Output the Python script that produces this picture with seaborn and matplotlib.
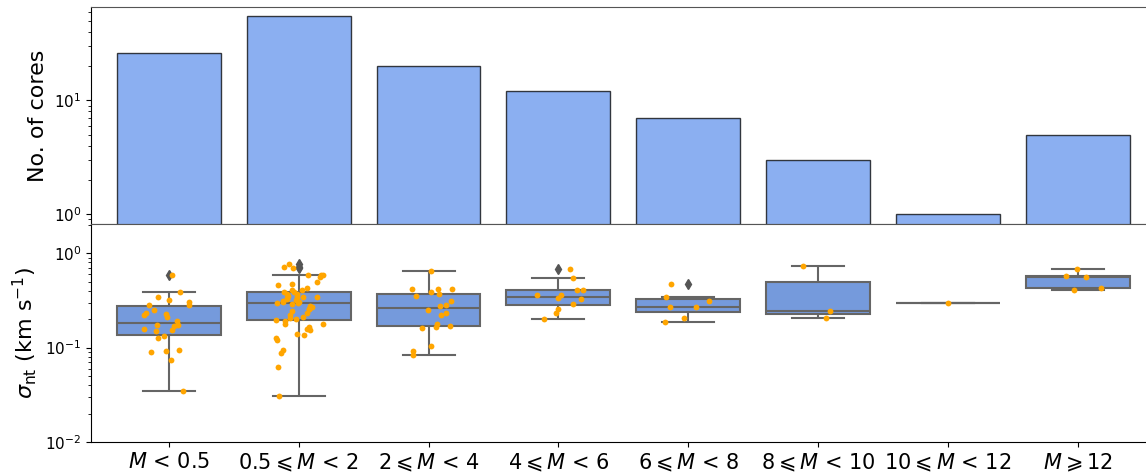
import numpy as np
import pandas as pd
import matplotlib
matplotlib.use("Agg")
import matplotlib.pyplot as plt
import seaborn as sns

# Mass bins (category labels)
categories = [r"$M$ < 0.5", r"0.5$\leqslant M$ < 2", r"2$\leqslant M$ < 4", r"4$\leqslant M$ < 6",
              r"6$\leqslant M$ < 8", r"8$\leqslant M$ < 10", r"10$\leqslant M$ < 12", r"$M\geqslant$12"]

# Number of cores in each bin
counts = [26, 55, 20, 12, 7, 3, 1, 5]

# Non-thermal velocity dispersion (km/s) per bin
sigma_bin1 = [0.589, 0.393, 0.347, 0.32, 0.303, 0.285, 0.284, 0.25, 0.232, 0.226, 0.219, 0.21, 0.192,
              0.174, 0.174, 0.169, 0.158, 0.153, 0.151, 0.133, 0.127, 0.095, 0.091, 0.089, 0.0738, 0.0344]
sigma_bin2 = [0.765, 0.72, 0.70, 0.595, 0.589, 0.589, 0.566, 0.497, 0.477, 0.458, 0.433, 0.409, 0.409,
              0.393, 0.386, 0.368, 0.368, 0.35, 0.347, 0.347, 0.342, 0.334, 0.328, 0.32, 0.31, 0.308,
              0.303, 0.30, 0.296, 0.288, 0.275, 0.268, 0.257, 0.255, 0.245, 0.23, 0.221, 0.21, 0.208,
              0.202, 0.197, 0.192, 0.179, 0.179, 0.165, 0.158, 0.154, 0.14, 0.136, 0.128, 0.121, 0.095,
              0.0875, 0.0617, 0.0304]
sigma_bin3 = [0.65, 0.422, 0.422, 0.422, 0.39, 0.368, 0.353, 0.313, 0.284, 0.277, 0.251, 0.232, 0.219,
              0.179, 0.17, 0.165, 0.161, 0.103, 0.093, 0.083]
sigma_bin4 = [0.677, 0.548, 0.406, 0.406, 0.365, 0.36, 0.334, 0.328, 0.288, 0.257, 0.233, 0.2]
sigma_bin5 = [0.477, 0.345, 0.313, 0.27, 0.27, 0.208, 0.186]
sigma_bin6 = [0.734, 0.247, 0.208]
sigma_bin7 = [0.30]
sigma_bin8 = [0.677, 0.575, 0.561, 0.433, 0.412]

all_bins = [sigma_bin1, sigma_bin2, sigma_bin3, sigma_bin4, sigma_bin5, sigma_bin6, sigma_bin7, sigma_bin8]

# Long-form table for seaborn
df = pd.DataFrame({
    "bin": [cat for cat, vals in zip(categories, all_bins) for _ in vals],
    "sigma": [v for vals in all_bins for v in vals],
})

np.random.seed(3)

fig = plt.figure(figsize=(11.46, 4.74), dpi=100)
ax1 = fig.add_axes([0.0794, 0.5274, 0.929, 0.4578])
ax2 = fig.add_axes([0.0794, 0.0675, 0.929, 0.4599])

# Top panel: number of cores per bin
sns.barplot(x=categories, y=counts, color="cornflowerblue", alpha=0.75, saturation=1,
            edgecolor="black", linewidth=1, width=0.8, ax=ax1)
ax1.set_yscale("log")
ax1.set_ylim(0.82, 66)
ax1.set_xlim(-0.6, 7.6)
ax1.set_ylabel("No. of cores", fontsize=16)
ax1.tick_params(axis="x", bottom=False, labelbottom=False)
ax1.tick_params(axis="y", labelsize=11)
for side in ["top", "bottom"]:
    ax1.spines[side].set_color("#555555")

# Bottom panel: box plot with the individual cores on top
sns.boxplot(data=df, x="bin", y="sigma", order=categories, color="cornflowerblue",
            linewidth=1.5, width=0.8, ax=ax2,
            flierprops=dict(marker="d", markerfacecolor="#555555", markeredgecolor="#555555", markersize=5))
sns.stripplot(data=df, x="bin", y="sigma", order=categories, color="orange", size=4.2,
              jitter=0.2, ax=ax2)
ax2.set_yscale("log")
ax2.set_ylim(0.01, 2.04)
ax2.set_xlim(-0.6, 7.6)
ax2.set_xlabel("")
ax2.set_ylabel(r"$\sigma_{\rm nt}$ (km s$^{-1}$)", fontsize=16)
ax2.tick_params(axis="x", labelsize=15)
ax2.tick_params(axis="y", labelsize=11)
ax2.spines["top"].set_color("#555555")

fig.savefig("out.png", dpi=100)
